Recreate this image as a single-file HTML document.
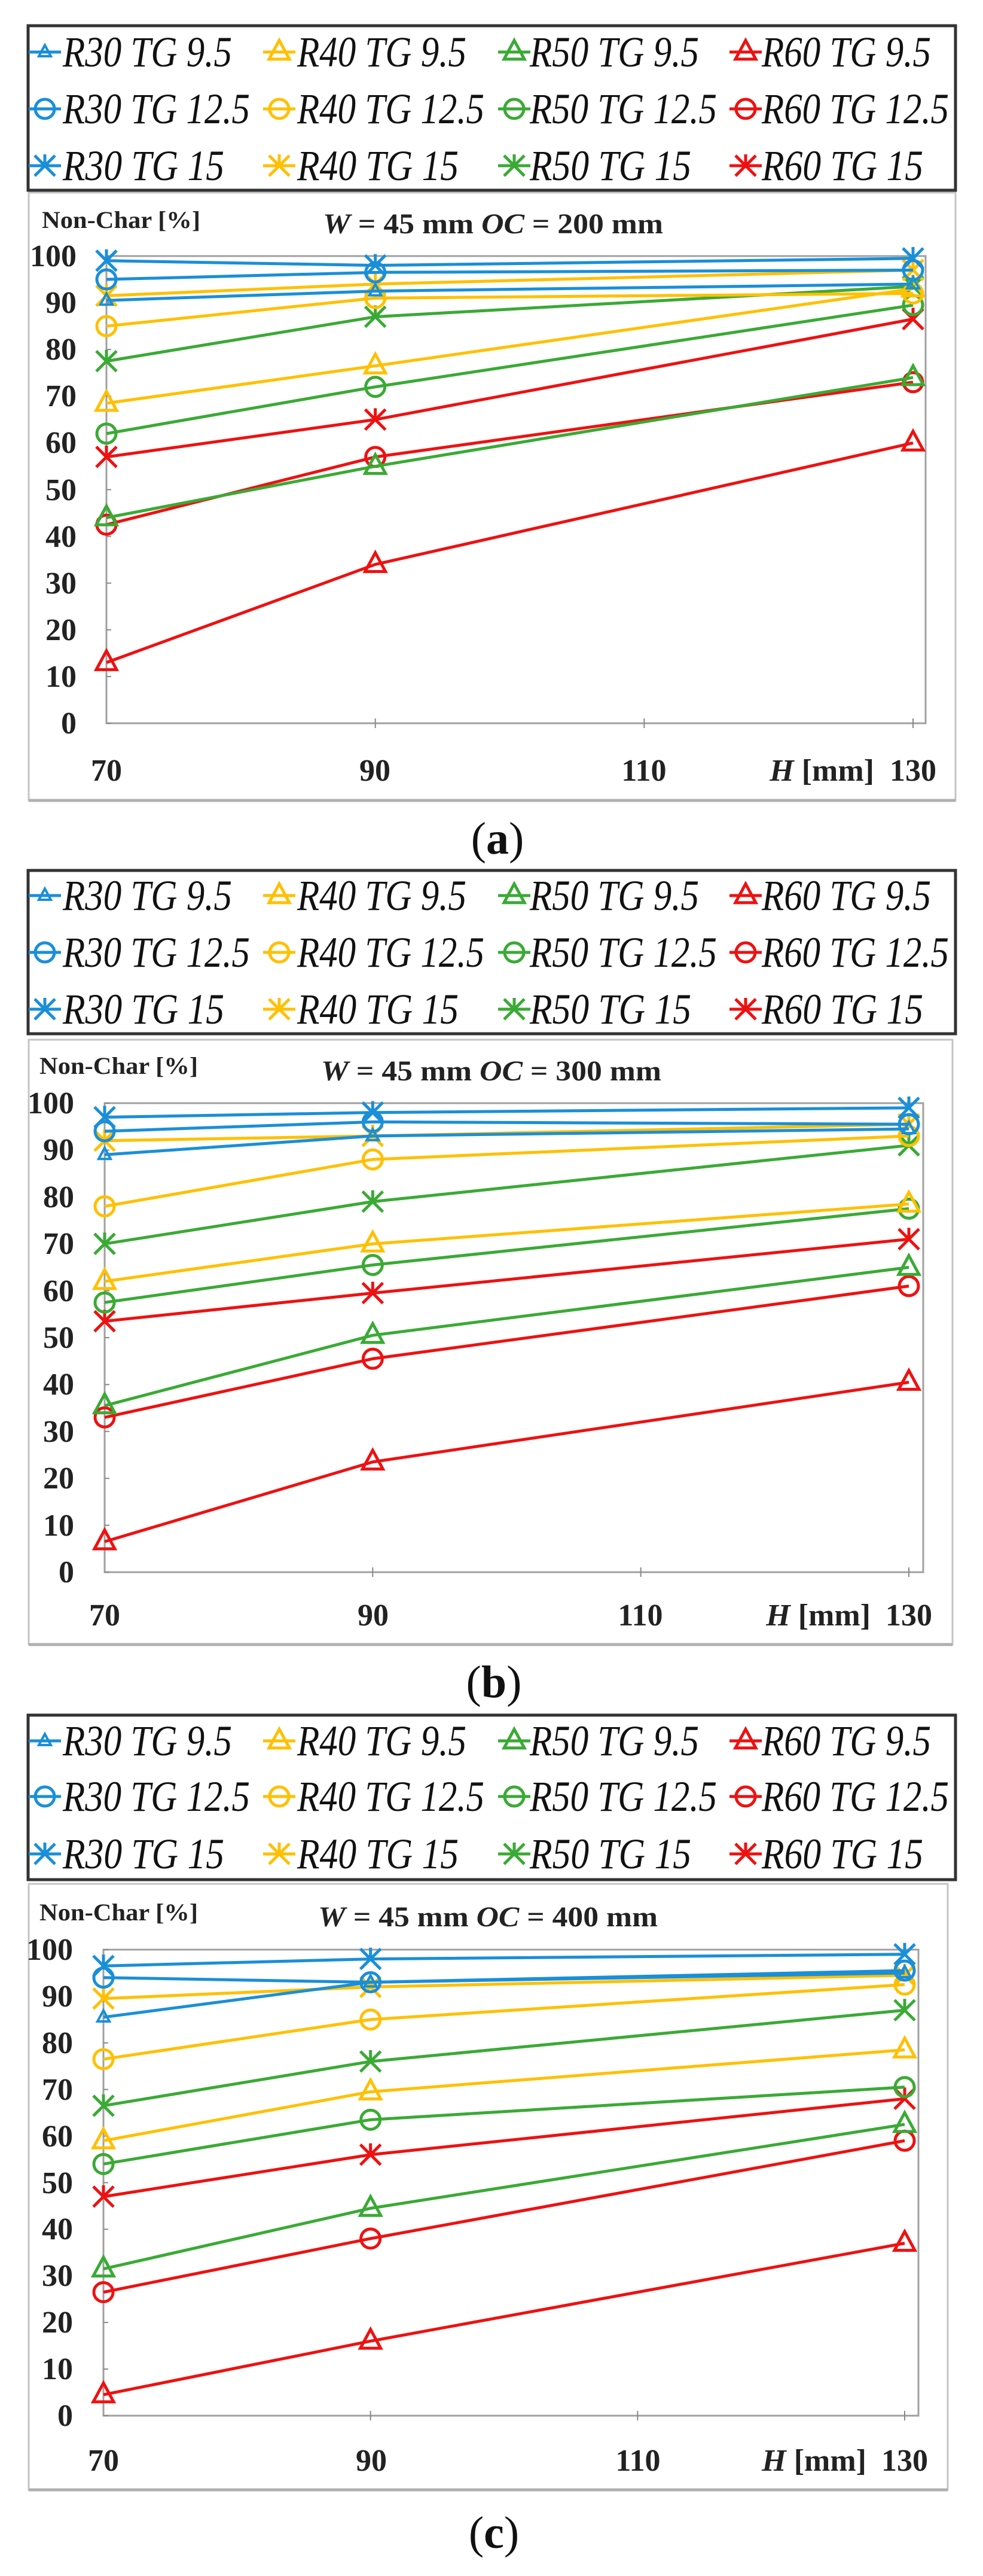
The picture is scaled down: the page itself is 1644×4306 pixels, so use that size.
<!DOCTYPE html>
<html><head><meta charset="utf-8"><style>
html,body{margin:0;padding:0;background:#fff;}
svg{display:block;}
.lg{font-family:"Liberation Serif",serif;font-style:italic;font-size:72px;fill:#111;}
.ax{font-family:"Liberation Serif",serif;font-weight:bold;font-size:52px;fill:#222;}
.nc{font-family:"Liberation Serif",serif;font-weight:bold;font-size:40px;fill:#222;}
.tt{font-family:"Liberation Serif",serif;font-weight:bold;font-size:48px;fill:#222;}
.cap{font-family:"Liberation Serif",serif;font-size:76px;fill:#111;}
</style></head><body>
<svg id="s" width="1644" height="4306" viewBox="0 0 1644 4306" xmlns="http://www.w3.org/2000/svg">
<rect width="1644" height="4306" fill="#fff"/>
<g id="shapes"></g>

<!-- Panel a text -->
<g class="lg">
<text x="105" y="111" textLength="283" lengthAdjust="spacingAndGlyphs">R30 TG 9.5</text>
<text x="497" y="111" textLength="283" lengthAdjust="spacingAndGlyphs">R40 TG 9.5</text>
<text x="886" y="111" textLength="283" lengthAdjust="spacingAndGlyphs">R50 TG 9.5</text>
<text x="1274" y="111" textLength="283" lengthAdjust="spacingAndGlyphs">R60 TG 9.5</text>
<text x="105" y="206" textLength="313" lengthAdjust="spacingAndGlyphs">R30 TG 12.5</text>
<text x="497" y="206" textLength="313" lengthAdjust="spacingAndGlyphs">R40 TG 12.5</text>
<text x="886" y="206" textLength="313" lengthAdjust="spacingAndGlyphs">R50 TG 12.5</text>
<text x="1274" y="206" textLength="313" lengthAdjust="spacingAndGlyphs">R60 TG 12.5</text>
<text x="105" y="301" textLength="270" lengthAdjust="spacingAndGlyphs">R30 TG 15</text>
<text x="497" y="301" textLength="270" lengthAdjust="spacingAndGlyphs">R40 TG 15</text>
<text x="886" y="301" textLength="270" lengthAdjust="spacingAndGlyphs">R50 TG 15</text>
<text x="1274" y="301" textLength="270" lengthAdjust="spacingAndGlyphs">R60 TG 15</text>
</g>
<text class="nc" x="70" y="381" textLength="265" lengthAdjust="spacingAndGlyphs">Non-Char [%]</text>
<text class="tt" x="540" y="390" textLength="569" lengthAdjust="spacingAndGlyphs"><tspan font-style="italic">W</tspan> = 45 mm <tspan font-style="italic">OC</tspan> = 200 mm</text>
<g class="ax" text-anchor="end">
<text x="128" y="1226">0</text><text x="128" y="1148">10</text><text x="128" y="1070">20</text><text x="128" y="992">30</text><text x="128" y="914">40</text><text x="128" y="836">50</text><text x="128" y="757">60</text><text x="128" y="679">70</text><text x="128" y="601">80</text><text x="128" y="523">90</text><text x="128" y="445">100</text>
</g>
<g class="ax" text-anchor="middle">
<text x="178" y="1305">70</text><text x="627" y="1305">90</text><text x="1077" y="1305">110</text><text x="1527" y="1305">130</text>
</g>
<text class="ax" x="1462" y="1305" text-anchor="end"><tspan font-style="italic">H</tspan> [mm]</text>
<text class="cap" x="832" y="1427" text-anchor="middle">(<tspan font-weight="bold">a</tspan>)</text>

<!-- Panel b text -->
<g class="lg">
<text x="105" y="1521" textLength="283" lengthAdjust="spacingAndGlyphs">R30 TG 9.5</text>
<text x="497" y="1521" textLength="283" lengthAdjust="spacingAndGlyphs">R40 TG 9.5</text>
<text x="886" y="1521" textLength="283" lengthAdjust="spacingAndGlyphs">R50 TG 9.5</text>
<text x="1274" y="1521" textLength="283" lengthAdjust="spacingAndGlyphs">R60 TG 9.5</text>
<text x="105" y="1616" textLength="313" lengthAdjust="spacingAndGlyphs">R30 TG 12.5</text>
<text x="497" y="1616" textLength="313" lengthAdjust="spacingAndGlyphs">R40 TG 12.5</text>
<text x="886" y="1616" textLength="313" lengthAdjust="spacingAndGlyphs">R50 TG 12.5</text>
<text x="1274" y="1616" textLength="313" lengthAdjust="spacingAndGlyphs">R60 TG 12.5</text>
<text x="105" y="1711" textLength="270" lengthAdjust="spacingAndGlyphs">R30 TG 15</text>
<text x="497" y="1711" textLength="270" lengthAdjust="spacingAndGlyphs">R40 TG 15</text>
<text x="886" y="1711" textLength="270" lengthAdjust="spacingAndGlyphs">R50 TG 15</text>
<text x="1274" y="1711" textLength="270" lengthAdjust="spacingAndGlyphs">R60 TG 15</text>
</g>
<text class="nc" x="66" y="1795" textLength="265" lengthAdjust="spacingAndGlyphs">Non-Char [%]</text>
<text class="tt" x="537" y="1806" textLength="569" lengthAdjust="spacingAndGlyphs"><tspan font-style="italic">W</tspan> = 45 mm <tspan font-style="italic">OC</tspan> = 300 mm</text>
<g class="ax" text-anchor="end">
<text x="124" y="2645">0</text><text x="124" y="2567">10</text><text x="124" y="2488">20</text><text x="124" y="2410">30</text><text x="124" y="2331">40</text><text x="124" y="2253">50</text><text x="124" y="2175">60</text><text x="124" y="2096">70</text><text x="124" y="2018">80</text><text x="124" y="1939">90</text><text x="124" y="1861">100</text>
</g>
<g class="ax" text-anchor="middle">
<text x="175" y="2717">70</text><text x="624" y="2717">90</text><text x="1071" y="2717">110</text><text x="1520" y="2717">130</text>
</g>
<text class="ax" x="1456" y="2717" text-anchor="end"><tspan font-style="italic">H</tspan> [mm]</text>
<text class="cap" x="826" y="2837" text-anchor="middle">(<tspan font-weight="bold">b</tspan>)</text>

<!-- Panel c text -->
<g class="lg">
<text x="105" y="2934" textLength="283" lengthAdjust="spacingAndGlyphs">R30 TG 9.5</text>
<text x="497" y="2934" textLength="283" lengthAdjust="spacingAndGlyphs">R40 TG 9.5</text>
<text x="886" y="2934" textLength="283" lengthAdjust="spacingAndGlyphs">R50 TG 9.5</text>
<text x="1274" y="2934" textLength="283" lengthAdjust="spacingAndGlyphs">R60 TG 9.5</text>
<text x="105" y="3027" textLength="313" lengthAdjust="spacingAndGlyphs">R30 TG 12.5</text>
<text x="497" y="3027" textLength="313" lengthAdjust="spacingAndGlyphs">R40 TG 12.5</text>
<text x="886" y="3027" textLength="313" lengthAdjust="spacingAndGlyphs">R50 TG 12.5</text>
<text x="1274" y="3027" textLength="313" lengthAdjust="spacingAndGlyphs">R60 TG 12.5</text>
<text x="105" y="3123" textLength="270" lengthAdjust="spacingAndGlyphs">R30 TG 15</text>
<text x="497" y="3123" textLength="270" lengthAdjust="spacingAndGlyphs">R40 TG 15</text>
<text x="886" y="3123" textLength="270" lengthAdjust="spacingAndGlyphs">R50 TG 15</text>
<text x="1274" y="3123" textLength="270" lengthAdjust="spacingAndGlyphs">R60 TG 15</text>
</g>
<text class="nc" x="66" y="3210" textLength="265" lengthAdjust="spacingAndGlyphs">Non-Char [%]</text>
<text class="tt" x="532" y="3220" textLength="568" lengthAdjust="spacingAndGlyphs"><tspan font-style="italic">W</tspan> = 45 mm <tspan font-style="italic">OC</tspan> = 400 mm</text>
<g class="ax" text-anchor="end">
<text x="122" y="4055">0</text><text x="122" y="3977">10</text><text x="122" y="3899">20</text><text x="122" y="3821">30</text><text x="122" y="3743">40</text><text x="122" y="3666">50</text><text x="122" y="3588">60</text><text x="122" y="3510">70</text><text x="122" y="3432">80</text><text x="122" y="3354">90</text><text x="122" y="3276">100</text>
</g>
<g class="ax" text-anchor="middle">
<text x="173" y="4130">70</text><text x="621" y="4130">90</text><text x="1067" y="4130">110</text><text x="1513" y="4130">130</text>
</g>
<text class="ax" x="1449" y="4130" text-anchor="end"><tspan font-style="italic">H</tspan> [mm]</text>
<text class="cap" x="826" y="4259" text-anchor="middle">(<tspan font-weight="bold">c</tspan>)</text>
</svg>
<script>
(function(){
var NS="http://www.w3.org/2000/svg",G=document.getElementById("shapes");
function el(t,a){var e=document.createElementNS(NS,t);for(var k in a)e.setAttribute(k,a[k]);G.appendChild(e);return e;}
var C=["#1a8fd8","#ffc000","#3aaa35","#ee1111"];
function marker(type,x,y,c,small){
  var s=small?10:17;
  if(type==0){el("polygon",{points:(x)+","+(y-s*1.15)+" "+(x-s)+","+(y+s*0.7)+" "+(x+s)+","+(y+s*0.7),fill:"none",stroke:c,"stroke-width":small?4:5});}
  else if(type==1){el("circle",{cx:x,cy:y,r:16,fill:"none",stroke:c,"stroke-width":5});}
  else {var r=17;el("path",{d:"M"+(x-r)+" "+(y-r)+"L"+(x+r)+" "+(y+r)+"M"+(x-r)+" "+(y+r)+"L"+(x+r)+" "+(y-r)+"M"+x+" "+(y-r-2)+"L"+x+" "+(y-3),fill:"none",stroke:c,"stroke-width":5});}
}
var P=[
 {leg:[43,318],rows:[87,182,277],fr:[322,1338],fright:1598,top:428,bot:1209,x70:178,x130:1527,pr:1548,
  d:[[[90.5,92.5,94],[95,96.5,97],[99,98,99.5]],
     [[68.5,76.5,93],[85,91,92],[91.5,94,97]],
     [[44,55,74],[62,72,89.5],[77.5,87,93.5]],
     [[13,34,60],[42.5,57,73],[57,65,86.5]]]},
 {leg:[1455,1728],rows:[1497,1592,1687],fr:[1738,2749],fright:1593,top:1844,bot:2628,x70:175,x130:1520,pr:1544,
  d:[[[89,93,94.5],[94,96,95.5],[97,98,99]],
     [[62,70,78.5],[78,88,93],[92,93,95.5]],
     [[35.5,50.5,65],[57.5,65.5,77.5],[70,79,91]],
     [[6.5,23.5,40.5],[33,45.5,61],[53.5,59.5,71]]]},
 {leg:[2867,3142],rows:[2910,3003,3099],fr:[3149,4162],fright:1585,top:3259,bot:4038,x70:173,x130:1513,pr:1536,
  d:[[[85.5,93,95],[94,93,95.5],[96.5,98,99]],
     [[59,69.5,78.5],[76.5,85,92.5],[89.5,92,94.5]],
     [[31.5,44.5,62.5],[54,63.5,70.5],[66.5,76,87]],
     [[4.5,16,37],[26.5,38,59],[47,56,68]]]}
];
var lx=[75,467,860,1247];
P.forEach(function(p){
  el("rect",{x:47,y:p.leg[0],width:1551,height:p.leg[1]-p.leg[0],fill:"none",stroke:"#333","stroke-width":5});
  for(var s=0;s<4;s++)for(var t=0;t<3;t++){
    var y=p.rows[t];el("line",{x1:lx[s]-27,y1:y,x2:lx[s]+27,y2:y,stroke:C[s],"stroke-width":5});
    marker(t,lx[s],y,C[s],s==0&&t==0);
  }
  el("rect",{x:48,y:p.fr[0],width:p.fright-48,height:p.fr[1]-p.fr[0],fill:"none",stroke:"#c4c4c4","stroke-width":3});
  el("line",{x1:48,y1:p.fr[1],x2:p.fright,y2:p.fr[1],stroke:"#b0b0b0","stroke-width":5});
  el("rect",{x:p.x70,y:p.top,width:p.pr-p.x70,height:p.bot-p.top,fill:"none",stroke:"#a0a0a0","stroke-width":3});
  var sx=(p.x130-p.x70)/60;
  [90,110,130].forEach(function(v){var x=p.x70+(v-70)*sx;el("line",{x1:x,y1:p.bot-8,x2:x,y2:p.bot+8,stroke:"#888","stroke-width":2});});
  for(var k=0;k<=10;k++){var y=p.bot-k*(p.bot-p.top)/10;el("line",{x1:p.x70,y1:y,x2:p.x70+8,y2:y,stroke:"#888","stroke-width":2});}
  var xs=[p.x70,p.x70+20*sx,p.x130];
  function Y(v){return p.bot-v/100*(p.bot-p.top);}
  for(var s=3;s>=0;s--)for(var t=0;t<3;t++){
    var v=p.d[s][t];
    el("polyline",{points:xs.map(function(x,i){return x+","+Y(v[i]);}).join(" "),fill:"none",stroke:C[s],"stroke-width":5,"stroke-linejoin":"round"});
    for(var i=0;i<3;i++)marker(t,xs[i],Y(v[i]),C[s],s==0&&t==0);
  }
});
})();
</script>
</body></html>
